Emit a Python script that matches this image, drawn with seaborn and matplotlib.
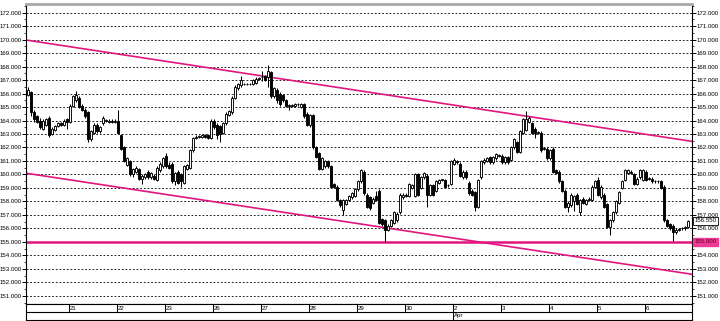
import numpy as np
import pandas as pd
import matplotlib
matplotlib.use("Agg")
import matplotlib.pyplot as plt
import matplotlib.transforms as mtransforms
from matplotlib import font_manager as fm
import seaborn as sns

# ---------------- data ----------------
opens = [165.9,166.1,164.6,164.3,164.0,163.4,163.7,164.2,163.0,163.3,163.6,163.8,163.7,164.1,
         163.9,165.1,165.5,165.7,165.1,164.8,164.6,162.6,163.1,163.7,163.2,163.8,164.0,163.9,164.0,163.9,
         164.0,162.9,162.0,160.7,161.0,160.0,160.2,160.4,159.7,159.8,160.2,159.8,159.9,159.6,160.3,160.6,
         161.4,160.7,160.8,159.5,160.2,160.0,159.4,160.4,160.5,161.8,162.7,162.8,162.8,162.9,162.9,162.7,
         164.0,163.7,163.6,163.1,163.8,164.4,164.6,165.7,166.4,166.6,166.7,166.7,166.7,166.7,166.8,167.1,
         167.2,167.3,167.2,167.6,165.8,166.3,166.0,165.9,165.5,165.1,165.1,165.1,165.2,165.0,165.2,164.5,
         163.7,164.4,162.0,161.6,160.4,160.6,161.0,160.6,159.3,159.1,158.1,157.4,157.8,158.1,158.3,158.4,
         158.9,159.5,160.2,158.5,158.3,157.9,158.4,158.8,156.7,156.6,155.9,156.2,156.4,156.6,157.2,158.3,
         158.5,158.4,159.0,158.4,160.0,159.0,159.8,159.9,158.5,159.2,158.8,159.4,159.6,159.6,159.2,159.3,
         160.8,161.0,160.8,159.8,160.2,159.4,158.8,158.7,157.6,159.8,160.9,161.0,161.3,160.9,161.2,161.4,
         161.4,160.9,161.3,161.1,162.0,162.4,161.7,163.1,163.3,163.9,163.8,163.4,163.1,163.1,161.9,161.9,
         161.2,161.9,160.3,160.2,159.5,158.8,157.6,157.7,158.0,158.5,157.2,158.2,157.8,158.1,158.1,159.1,
         159.6,158.3,158.5,157.8,156.1,156.6,157.2,157.9,159.0,159.6,160.1,160.2,160.0,159.3,159.8,159.6,
         160.2,159.7,159.7,159.5,159.5,159.5,159.1,156.6,156.3,156.2,155.7,155.9,156.0,156.0,156.1]
highs = [166.5,166.2,164.8,164.4,164.2,164.1,164.2,164.3,163.5,163.7,163.9,163.9,164.1,164.2,
         165.2,165.9,166.2,165.8,165.2,164.9,164.7,163.3,163.8,163.8,163.6,164.3,164.1,164.1,164.1,164.1,
         164.8,163.0,162.1,161.3,161.1,160.5,160.6,160.5,160.0,160.1,160.3,160.2,160.0,160.6,160.9,161.3,
         161.6,160.9,160.9,160.2,160.3,160.1,160.7,160.8,161.9,162.8,162.9,162.9,163.0,163.0,163.0,164.1,
         164.1,163.8,163.7,163.9,164.6,164.8,165.8,166.6,166.8,167.3,166.8,166.8,166.8,167.1,167.2,167.2,
         167.7,167.4,168.1,167.7,166.5,166.4,166.1,166.0,165.6,165.2,165.2,165.3,165.3,165.3,165.3,164.6,
         164.5,164.5,162.1,161.7,161.3,161.1,161.1,160.7,159.4,159.2,158.2,158.2,158.2,158.5,158.7,159.0,
         159.6,160.4,160.3,158.6,158.4,158.3,158.8,158.9,156.8,156.7,156.3,156.7,157.3,157.2,158.6,158.6,
         158.6,159.4,159.3,160.1,160.1,159.9,160.2,160.0,159.3,159.3,159.6,159.7,159.7,159.7,159.3,161.1,
         161.2,161.1,160.9,160.3,160.3,159.5,158.9,158.8,159.7,161.1,161.2,161.3,161.4,161.4,161.6,161.5,
         161.5,161.4,161.4,162.1,162.7,162.5,163.3,164.2,164.7,164.3,163.9,163.5,163.2,163.2,162.0,162.0,
         161.9,162.0,160.4,160.3,159.6,158.9,158.0,158.6,158.5,158.6,158.2,158.3,158.2,158.3,159.2,159.6,
         159.8,159.2,158.6,157.9,156.7,157.3,158.1,158.8,159.6,160.4,160.4,160.3,160.1,159.8,160.4,160.4,
         160.3,159.8,159.8,159.6,159.6,159.6,159.2,156.7,156.4,156.3,156.0,156.0,156.1,156.2,156.6]
lows = [165.8,164.3,163.9,163.8,163.4,163.3,163.6,162.8,162.9,163.2,163.5,163.6,163.6,163.4,
        163.8,165.0,165.4,164.9,164.7,164.2,162.4,162.5,163.0,163.1,163.1,163.7,163.9,163.8,163.8,163.8,
        163.0,161.8,160.9,160.6,159.9,159.8,160.1,159.6,159.3,159.7,159.7,159.7,159.6,159.5,160.2,160.5,
        160.5,160.4,159.4,159.2,159.3,159.1,159.3,160.3,160.4,161.7,162.6,162.7,162.7,162.7,162.6,162.6,
        163.4,162.6,162.4,163.0,163.7,164.3,164.5,165.6,166.3,166.5,166.6,166.6,166.6,166.6,166.7,167.0,
        166.9,166.9,166.5,165.7,165.7,165.3,165.1,165.4,165.0,164.8,165.0,165.0,165.1,164.9,164.2,163.6,
        163.5,161.9,161.2,160.3,160.3,160.5,160.5,159.0,159.0,158.0,157.6,157.0,157.7,158.0,158.2,158.3,
        158.8,159.4,158.5,157.5,157.4,157.8,158.0,156.3,156.2,155.0,155.8,156.1,156.3,156.5,157.1,158.2,
        158.3,158.3,158.9,158.3,158.4,158.9,159.7,157.6,158.4,158.4,158.7,159.3,159.5,159.0,159.1,159.2,
        160.7,160.8,159.8,159.7,159.7,158.5,158.4,157.3,157.5,159.7,160.8,160.9,160.8,160.8,161.1,161.3,
        160.8,160.8,160.8,161.0,161.9,161.6,161.6,163.0,163.2,163.8,163.0,162.7,163.0,161.7,161.8,161.1,
        161.1,160.1,160.0,159.4,158.7,157.5,157.2,157.6,157.3,157.7,157.0,157.8,157.7,158.0,158.0,159.0,
        158.4,158.2,157.5,156.0,155.5,156.5,157.1,157.8,158.9,159.5,160.0,160.0,159.2,159.2,159.7,159.5,
        159.5,159.6,159.4,159.4,159.4,158.9,156.5,156.1,155.9,155.1,155.6,155.8,155.9,155.9,156.0]
closes = [166.3,164.6,164.1,163.9,163.5,164.0,164.1,162.9,163.4,163.6,163.8,163.7,164.0,163.9,
          165.1,165.8,165.9,165.0,164.8,164.3,162.6,163.2,163.7,163.2,163.5,164.2,164.0,164.0,163.9,164.0,
          163.1,161.9,161.0,161.2,160.0,160.4,160.5,159.7,159.9,160.0,159.8,160.1,159.7,160.5,160.8,161.2,
          160.6,160.5,159.5,160.1,159.4,159.5,160.6,160.7,161.8,162.7,162.8,162.8,162.9,162.8,162.7,164.0,
          163.5,162.9,163.0,163.8,164.5,164.7,165.7,166.5,166.7,167.0,166.7,166.7,166.7,167.0,167.1,167.1,
          167.2,167.0,167.7,165.8,166.4,165.5,165.2,165.5,165.1,165.1,165.1,165.2,165.2,165.2,164.3,163.7,
          164.4,162.0,161.3,160.4,161.2,161.0,160.6,159.1,159.1,158.1,157.7,158.1,158.1,158.4,158.6,158.9,
          159.5,160.3,158.6,157.6,157.5,158.2,158.1,156.4,156.3,155.9,156.2,156.6,157.2,157.1,158.5,158.5,
          158.4,159.3,159.2,160.0,158.5,159.8,160.1,158.5,159.2,158.5,159.5,159.6,159.6,159.1,159.2,161.0,
          161.1,160.9,159.9,160.2,159.8,158.6,158.5,157.6,159.6,161.0,161.1,161.2,160.9,161.3,161.5,161.4,
          160.9,161.3,160.9,162.0,162.6,161.7,163.2,164.1,164.1,164.2,163.1,163.1,163.1,161.8,161.9,161.2,
          161.8,160.2,160.1,159.5,158.8,157.6,157.9,158.5,158.4,157.8,158.1,157.9,158.1,158.2,159.1,159.5,
          158.5,159.1,157.6,156.1,156.6,157.2,158.0,158.7,159.5,160.3,160.3,160.1,159.3,159.7,160.3,160.3,
          159.6,159.7,159.5,159.5,159.5,159.0,156.6,156.2,156.0,155.7,155.9,155.9,156.0,156.1,156.55]

day_labels = ["21", "22", "23", "26", "27", "28", "29", "30", "2", "3", "4", "5", "6"]
day_first_candle = [14, 30, 46, 62, 78, 94, 110, 126, 142, 158, 174, 190, 206]
month_label = "Apr"
month_first_candle = 142
price_ticks = list(range(151, 173))
upper_channel = [169.95, 162.50]   # at first and last candle
lower_channel = [160.07, 152.64]
support_level = 155.000
last_price = 156.550

# ---------------- style ----------------
sns.set_style("white")
try:
    fm.findfont("Liberation Sans Narrow", fallback_to_default=False)
    has_narrow = True
except Exception:
    has_narrow = False
if has_narrow:
    plt.rcParams["font.family"] = ["Liberation Sans Narrow", "DejaVu Sans"]
    FS = 5.0
else:
    plt.rcParams["font.family"] = ["Liberation Sans", "DejaVu Sans"]
    FS = 4.4
PINK = "#e0157f"

df = pd.DataFrame({"open": opens, "high": highs, "low": lows, "close": closes})
df["x"] = np.arange(len(df))
n = len(df)

W, H = 720, 321
fig = plt.figure(figsize=(W / 100, H / 100), dpi=100)
fig.patch.set_facecolor("white")
ax = fig.add_axes([26 / W, 17 / H, 666 / W, 300 / H])
ax.set_facecolor("white")

xlim = (-0.67, n - 1 + 1.33)
ax.set_xlim(*xlim)
ax.set_ylim(150.39, 172.645)

# grid
ax.set_yticks(price_ticks)
ax.set_yticks(np.arange(150.5, 172.6, 1.0), minor=True)
ax.yaxis.grid(True, which="major", color="black", linestyle=(0, (2.2, 2.2)), lw=0.6)
ax.xaxis.grid(False)
ax.set_axisbelow(True)
ax.set_yticklabels([f"{v:.3f}" for v in price_ticks])
ax.tick_params(axis="y", which="major", left=True, right=True, labelleft=True, labelright=True,
               length=3.0, width=0.7, pad=0.3, labelsize=FS, colors="black")
ax.tick_params(axis="y", which="minor", left=True, right=True, length=1.6, width=0.6)
ax.set_xticks([])

# channel + support
ax.axline((0, upper_channel[0]), (n - 1, upper_channel[1]), color=PINK, lw=1.2, zorder=2)
ax.axline((0, lower_channel[0]), (n - 1, lower_channel[1]), color=PINK, lw=1.2, zorder=2)
ax.axhline(support_level, color=PINK, lw=1.8, zorder=2)

# candles
ax.vlines(df["x"], df["low"], df["high"], color="black", lw=0.75, zorder=3)
up = df["close"] >= df["open"]
body = (df["close"] - df["open"]).abs().clip(lower=0.03)
bottom = df[["open", "close"]].min(axis=1)
ax.bar(df["x"][up], body[up], bottom=bottom[up], width=0.75, facecolor="white",
       edgecolor="black", lw=0.65, zorder=4)
ax.bar(df["x"][~up], body[~up], bottom=bottom[~up], width=0.75, facecolor="black",
       edgecolor="black", lw=0.65, zorder=4)

for s in ["left", "right", "bottom"]:
    ax.spines[s].set_color("black")
    ax.spines[s].set_linewidth(0.8)
ax.spines["top"].set_color("#a8a8a8")
ax.spines["top"].set_linewidth(2.0)

# the right-hand label at the support level is replaced by the highlighted box
ax.yaxis.get_major_ticks()[price_ticks.index(int(support_level))].label2.set_visible(False)

trans = mtransforms.blended_transform_factory(ax.transAxes, ax.transData)
ax.text(1.004, support_level, f"{support_level:.3f}", transform=trans, ha="left", va="center",
        fontsize=FS, color="#600020", zorder=6, clip_on=False,
        bbox=dict(boxstyle="square,pad=0.25", facecolor="#ec3c96", edgecolor="#ec3c96"))
ax.text(1.004, last_price, f"{last_price:.3f}", transform=trans, ha="left", va="center",
        fontsize=FS, color="black", zorder=6, clip_on=False,
        bbox=dict(boxstyle="square,pad=0.25", facecolor="white", edgecolor="black", lw=0.6))

# date band
axd = fig.add_axes([26 / W, 1 / H, 666 / W, 16 / H])
axd.set_xlim(*xlim)
axd.set_ylim(0, 2)
axd.set_xticks([])
axd.set_yticks([])
axd.set_facecolor("white")
for s in axd.spines.values():
    s.set_color("black")
    s.set_linewidth(0.8)
axd.axhline(1, color="black", lw=0.8)
for lab, k in zip(day_labels, day_first_candle):
    axd.vlines(k - 0.5, 1, 2, color="black", lw=0.7)
    axd.text(k - 0.5 + 0.45, 1.5, lab, ha="left", va="center", fontsize=FS, color="black")
axd.vlines(month_first_candle - 0.5, 0, 1, color="black", lw=0.7)
axd.text(month_first_candle - 0.5 + 0.45, 0.5, month_label, ha="left", va="center",
         fontsize=FS, color="black")

fig.savefig("out.png", dpi=100, facecolor="white")
